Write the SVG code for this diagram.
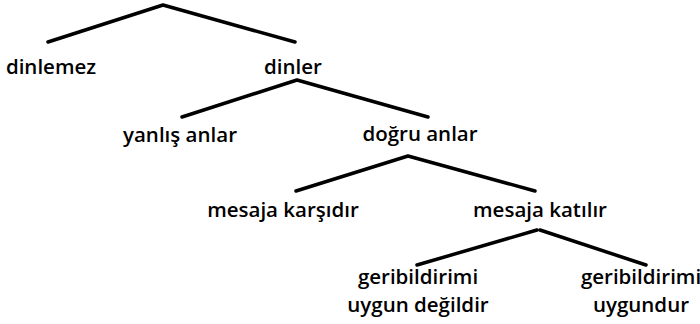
<svg xmlns="http://www.w3.org/2000/svg" width="700" height="324" viewBox="0 0 700 324">
<style>
.e{fill:none;stroke:#000;stroke-width:3.5;stroke-linejoin:round;stroke-linecap:round}
text{font-family:"Open Sans","Noto Sans",sans-serif;font-size:20.5px;font-weight:600;fill:#000;text-anchor:middle}
</style>
<rect width="700" height="324" fill="#fff"/>
<g id="connectors">
<polyline class="e" points="48,42 163,5 295,42"/>
<polyline class="e" points="182,117 297,80 428,117"/>
<polyline class="e" points="296,191 408,156 535,191"/>
<polyline class="e" points="417,265 537,230"/>
<polyline class="e" points="540,230 646,265"/>
</g>
<g id="n-dinlemez"><text x="51" y="74">dinlemez</text></g>
<g id="n-dinler"><text x="293" y="74">dinler</text></g>
<g id="n-yanlis"><text x="180" y="142">yanlış anlar</text></g>
<g id="n-dogru"><text x="420" y="141">doğru anlar</text></g>
<g id="n-karsi"><text x="283" y="217">mesaja karşıdır</text></g>
<g id="n-katilir"><text x="540" y="217">mesaja katılır</text></g>
<g id="n-degil"><text x="418" y="284">geribildirimi</text><text x="418" y="312">uygun değildir</text></g>
<g id="n-uygun"><text x="641" y="284">geribildirimi</text><text x="641" y="312">uygundur</text></g>
</svg>
